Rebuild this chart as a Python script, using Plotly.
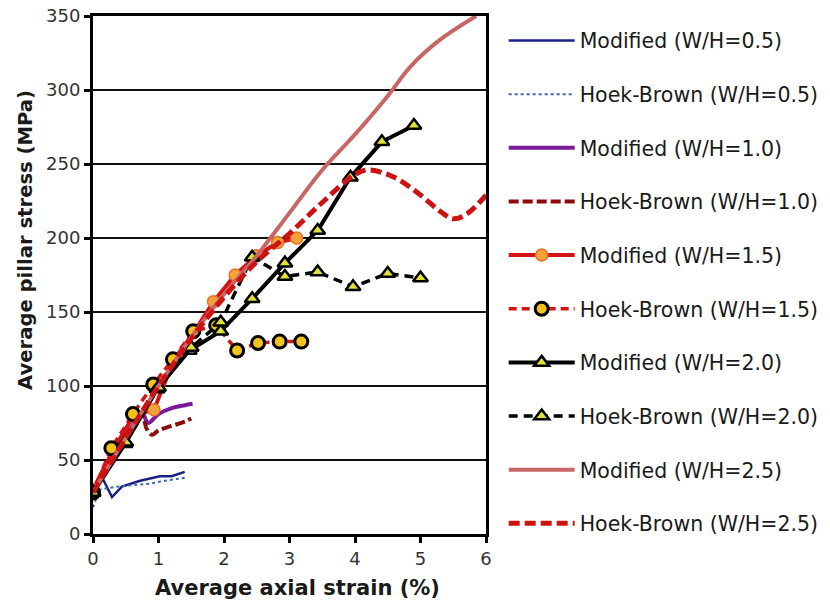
import plotly.graph_objects as go

# ---- data ----
m05_x = [0, 0.13, 0.29, 0.44, 0.72, 1.02, 1.2, 1.4]
m05_y = [30, 39, 25, 32, 36, 39, 39, 42]
hb05_x = [0, 0.1, 0.36, 0.6, 0.87, 1.1, 1.4]
hb05_y = [18, 30, 32, 33, 34, 36, 38]

m10_x = [0, 0.2, 0.4, 0.6, 0.75, 0.84, 1.0, 1.2, 1.4, 1.52]
m10_y = [28, 45, 60, 73, 82, 75, 81, 85, 87, 88]
hb10_x = [0, 0.2, 0.4, 0.6, 0.75, 0.82, 0.9, 1.0, 1.2, 1.4, 1.5]
hb10_y = [28, 45, 60, 72, 80, 71, 67, 70, 73, 76, 78]

m15_x = [0, 0.31, 0.62, 0.93, 1.24, 1.55, 1.84, 2.17, 2.5, 2.82, 3.11]
m15_y = [30, 57, 80, 84, 118, 137, 157, 175, 188, 197, 200]
hb15_x = [0, 0.28, 0.61, 0.92, 1.22, 1.53, 1.88, 2.2, 2.52, 2.85, 3.18]
hb15_y = [28, 58, 81, 101, 118, 137, 141, 124, 129, 130, 130]

m20_x = [0, 0.49, 0.98, 1.47, 1.95, 2.43, 2.93, 3.43, 3.93, 4.41, 4.9]
m20_y = [28, 61, 98, 124, 137, 159, 183, 205, 241, 265, 276]
hb20_x = [0, 0.5, 1.0, 1.5, 1.95, 2.43, 2.93, 3.43, 3.97, 4.5, 5.0]
hb20_y = [28, 62, 99, 126, 143, 187, 174, 177, 167, 176, 173]

m25_x = [0, 0.5, 1.0, 1.5, 2.0, 2.5, 3.0, 3.5, 4.0, 4.5, 4.85, 5.3, 5.85]
m25_y = [28, 65, 100, 133, 162, 188, 217, 246, 270, 296, 316, 334, 350]
hb25_x = [0, 0.5, 1.0, 1.5, 2.0, 2.5, 3.0, 3.5, 4.0, 4.2, 4.6, 5.0, 5.3, 5.5, 5.7, 6.0]
hb25_y = [28, 65, 100, 132, 160, 184, 203, 224, 243, 246, 241, 229, 218, 213, 216, 229]

x_ticks = [0, 1, 2, 3, 4, 5, 6]
y_ticks = [0, 50, 100, 150, 200, 250, 300, 350]

FONT = "DejaVu Sans, Arial, sans-serif"

fig = go.Figure()

def add(x, y, name, color, width, dash="solid", shape="linear", marker=None):
    kw = dict(x=x, y=y, name=name, legendgroup=name,
              line=dict(color=color, width=width, dash=dash, shape=shape))
    if marker:
        kw["mode"] = "lines+markers"
        kw["marker"] = marker
    else:
        kw["mode"] = "lines"
    fig.add_trace(go.Scatter(**kw))

add(m05_x, m05_y, "Modified (W/H=0.5)", "#1a1f86", 2.5)
add(hb05_x, hb05_y, "Hoek-Brown (W/H=0.5)", "#3a68ad", 2, dash="dot")
add(m10_x, m10_y, "Modified (W/H=1.0)", "#7d1a9a", 4, shape="spline")
add(hb10_x, hb10_y, "Hoek-Brown (W/H=1.0)", "#8b0a0a", 4, dash="10px,4px", shape="spline")
add(m15_x, m15_y, "Modified (W/H=1.5)", "#d41414", 4,
    marker=dict(symbol="circle", size=12, color="#f5a338", line=dict(color="#e8702a", width=1.5)))
add(hb15_x, hb15_y, "Hoek-Brown (W/H=1.5)", "#d41414", 3.5, dash="8px,5px",
    marker=dict(symbol="circle", size=13, color="#f2c419", line=dict(color="#000000", width=3)))
add(m20_x, m20_y, "Modified (W/H=2.0)", "#000000", 4,
    marker=dict(symbol="triangle-up", size=13, color="#dde23a", line=dict(color="#000000", width=2.5)))
add(hb20_x, hb20_y, "Hoek-Brown (W/H=2.0)", "#000000", 3.5, dash="9px,6px",
    marker=dict(symbol="triangle-up", size=13, color="#dde23a", line=dict(color="#000000", width=2.5)))
add(m25_x, m25_y, "Modified (W/H=2.5)", "#c96565", 4, shape="spline")
add(hb25_x, hb25_y, "Hoek-Brown (W/H=2.5)", "#cc1212", 5, dash="11px,5px", shape="spline")

fig.update_layout(
    width=830, height=603,
    margin=dict(l=93, r=344, t=16, b=69, autoexpand=False),
    paper_bgcolor="white", plot_bgcolor="white",
    font=dict(family=FONT, size=18, color="#333333"),
    legend=dict(x=1.045, xanchor="left", y=0.991, yanchor="top",
                maxheight=590,
                font=dict(family=FONT, size=20.5, color="#1a1a1a"),
                itemwidth=66, tracegroupgap=24, traceorder="grouped",
                bgcolor="rgba(0,0,0,0)"),
    showlegend=True,
    annotations=[
        dict(text="<b>Average pillar stress (MPa)</b>", textangle=-90,
             xref="paper", yref="paper", x=-0.1705, y=0.5676,
             xanchor="center", yanchor="middle", showarrow=False,
             font=dict(family=FONT, size=19.6, color="#1a1a1a")),
        dict(text="<b>Average axial strain (%)</b>",
             xref="paper", yref="paper", x=0.5216, y=-0.104,
             xanchor="center", yanchor="middle", showarrow=False,
             font=dict(family=FONT, size=21, color="#1a1a1a")),
    ],
)
fig.update_xaxes(range=[0, 6], tickvals=x_ticks, ticktext=[str(v) for v in x_ticks],
                 showgrid=False, zeroline=False, showline=True, linecolor="black", linewidth=3,
                 mirror=True, ticks="outside", ticklen=6, tickwidth=2.5, tickcolor="black",
                 tickfont=dict(size=18, color="#333333"))
fig.update_yaxes(range=[0, 350], tickvals=y_ticks, ticktext=[str(v) for v in y_ticks],
                 showgrid=True, gridcolor="#111111", gridwidth=2, zeroline=False,
                 showline=True, linecolor="black", linewidth=3, mirror=True,
                 ticks="outside", ticklen=6, tickwidth=2.5, tickcolor="black",
                 tickfont=dict(size=18, color="#333333"))

fig.write_html("out.html")
